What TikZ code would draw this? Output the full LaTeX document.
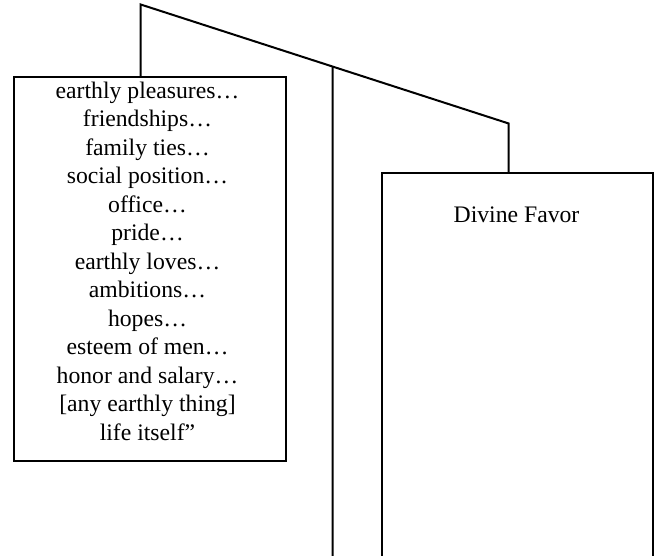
\documentclass[tikz,border=0pt]{standalone}
\usepackage{fontspec}
\setmainfont{Liberation Serif}
\usetikzlibrary{calc}
\begin{document}
\begin{tikzpicture}[x=1pt,y=-1pt,
  box/.style={draw=black,line width=2pt,rectangle,inner sep=0pt,anchor=north west},
  wire/.style={draw=black,line width=2pt},
  lbl/.style={font=\fontsize{23.7}{28.5}\selectfont,align=center,inner sep=0pt}]
\useasboundingbox (0,0) rectangle (654,556);
\node[box,minimum width=272.5pt,minimum height=383.5pt] (left) at (12.5,76.5) {};
\node[box,minimum width=271.5pt,minimum height=383.5pt] (right) at (380.5,172.5) {};
\coordinate (top) at (140.7,4.5);
\coordinate (bend) at (508.7,123.5);
\coordinate (midtop) at ($(top)!0.5217!(bend)$);
\coordinate (midbot) at (332.7,556);
\draw[wire,line join=miter] (left.north -| top) -- (top) -- (bend) -- (bend |- right.north);
\draw[wire] (midtop) -- (midbot);
\node[lbl,anchor=base] (ltext) at (147.5,440) {earthly pleasures…\\friendships…\\family ties…\\social position…\\office…\\pride…\\earthly loves…\\ambitions…\\hopes…\\esteem of men…\\honor and salary…\\{[}any earthly thing{]}\\life itself”};
\node[lbl,anchor=base] (rtext) at (516.5,222.7) {Divine Favor};
\end{tikzpicture}
\end{document}
